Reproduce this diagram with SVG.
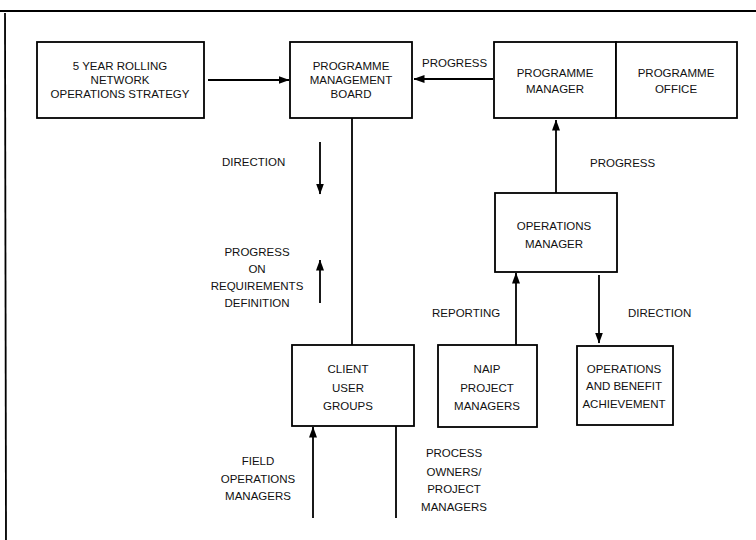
<svg xmlns="http://www.w3.org/2000/svg" width="756" height="540" viewBox="0 0 756 540">
<style>
.box{fill:#fff;stroke:#000;stroke-width:1.8}
.t{font-family:"Liberation Sans",Arial,sans-serif;font-size:11.5px;fill:#111;text-anchor:middle}
.s{text-anchor:start}
.c{stroke:#000;stroke-width:1.8;fill:none}
</style>
<defs>
<marker id="ah" viewBox="0 0 11 8" refX="10.5" refY="4" markerWidth="11" markerHeight="8" orient="auto" markerUnits="userSpaceOnUse">
<path d="M0,0 L11,4 L0,8 Z" fill="#000"/>
</marker>
</defs>
<rect width="756" height="540" fill="#fff"/>
<g id="frame">
<line x1="0" y1="11" x2="756" y2="11" stroke="#000" stroke-width="2.2"/>
<line x1="5" y1="13" x2="6" y2="540" stroke="#000" stroke-width="1.8"/>
</g>
<g id="connectors">
<line class="c" x1="208" y1="80" x2="289" y2="80" marker-end="url(#ah)"/>
<line class="c" x1="493" y1="79" x2="414" y2="79" marker-end="url(#ah)"/>
<line class="c" x1="556" y1="193" x2="556" y2="120" marker-end="url(#ah)"/>
<line class="c" x1="352" y1="118" x2="352" y2="345"/>
<line class="c" x1="320" y1="142" x2="320" y2="194" marker-end="url(#ah)"/>
<line class="c" x1="320" y1="303" x2="320" y2="260" marker-end="url(#ah)"/>
<line class="c" x1="516" y1="345" x2="516" y2="273" marker-end="url(#ah)"/>
<line class="c" x1="599" y1="275" x2="599" y2="343" marker-end="url(#ah)"/>
<line class="c" x1="313" y1="518" x2="313" y2="427" marker-end="url(#ah)"/>
<line class="c" x1="396" y1="426" x2="396" y2="518"/>
<text class="t s" x="422" y="67">PROGRESS</text>
<text class="t s" x="590" y="167">PROGRESS</text>
<text class="t s" x="222" y="166">DIRECTION</text>
<text class="t" x="257" y="256">PROGRESS</text>
<text class="t" x="257" y="273">ON</text>
<text class="t" x="257" y="290">REQUIREMENTS</text>
<text class="t" x="257" y="307">DEFINITION</text>
<text class="t s" x="432" y="317">REPORTING</text>
<text class="t s" x="628" y="317">DIRECTION</text>
<text class="t" x="258" y="465">FIELD</text>
<text class="t" x="258" y="483">OPERATIONS</text>
<text class="t" x="258" y="500">MANAGERS</text>
<text class="t" x="454" y="457">PROCESS</text>
<text class="t" x="454" y="476">OWNERS/</text>
<text class="t" x="454" y="493">PROJECT</text>
<text class="t" x="454" y="511">MANAGERS</text>
</g>
<g id="strategy">
<rect class="box" x="37" y="42" width="167" height="76"/>
<text class="t" x="120" y="70">5 YEAR ROLLING</text>
<text class="t" x="120" y="84">NETWORK</text>
<text class="t" x="120" y="98">OPERATIONS STRATEGY</text>
</g>
<g id="board">
<rect class="box" x="290" y="42" width="122" height="76"/>
<text class="t" x="351" y="70">PROGRAMME</text>
<text class="t" x="351" y="84">MANAGEMENT</text>
<text class="t" x="351" y="98">BOARD</text>
</g>
<g id="prog-manager">
<rect class="box" x="494" y="42" width="122" height="76"/>
<text class="t" x="555" y="77">PROGRAMME</text>
<text class="t" x="555" y="93">MANAGER</text>
</g>
<g id="prog-office">
<rect class="box" x="616" y="42" width="121" height="76"/>
<text class="t" x="676" y="77">PROGRAMME</text>
<text class="t" x="676" y="93">OFFICE</text>
</g>
<g id="ops-manager">
<rect class="box" x="495" y="193" width="122" height="79"/>
<text class="t" x="554" y="230">OPERATIONS</text>
<text class="t" x="554" y="248">MANAGER</text>
</g>
<g id="client">
<rect class="box" x="292" y="345" width="122" height="81"/>
<text class="t" x="348" y="373">CLIENT</text>
<text class="t" x="348" y="392">USER</text>
<text class="t" x="348" y="410">GROUPS</text>
</g>
<g id="naip">
<rect class="box" x="438" y="345" width="99" height="82"/>
<text class="t" x="487" y="373">NAIP</text>
<text class="t" x="487" y="392">PROJECT</text>
<text class="t" x="487" y="410">MANAGERS</text>
</g>
<g id="benefit">
<rect class="box" x="577" y="346" width="96" height="79"/>
<text class="t" x="624" y="373">OPERATIONS</text>
<text class="t" x="624" y="390">AND BENEFIT</text>
<text class="t" x="624" y="408">ACHIEVEMENT</text>
</g>
</svg>
